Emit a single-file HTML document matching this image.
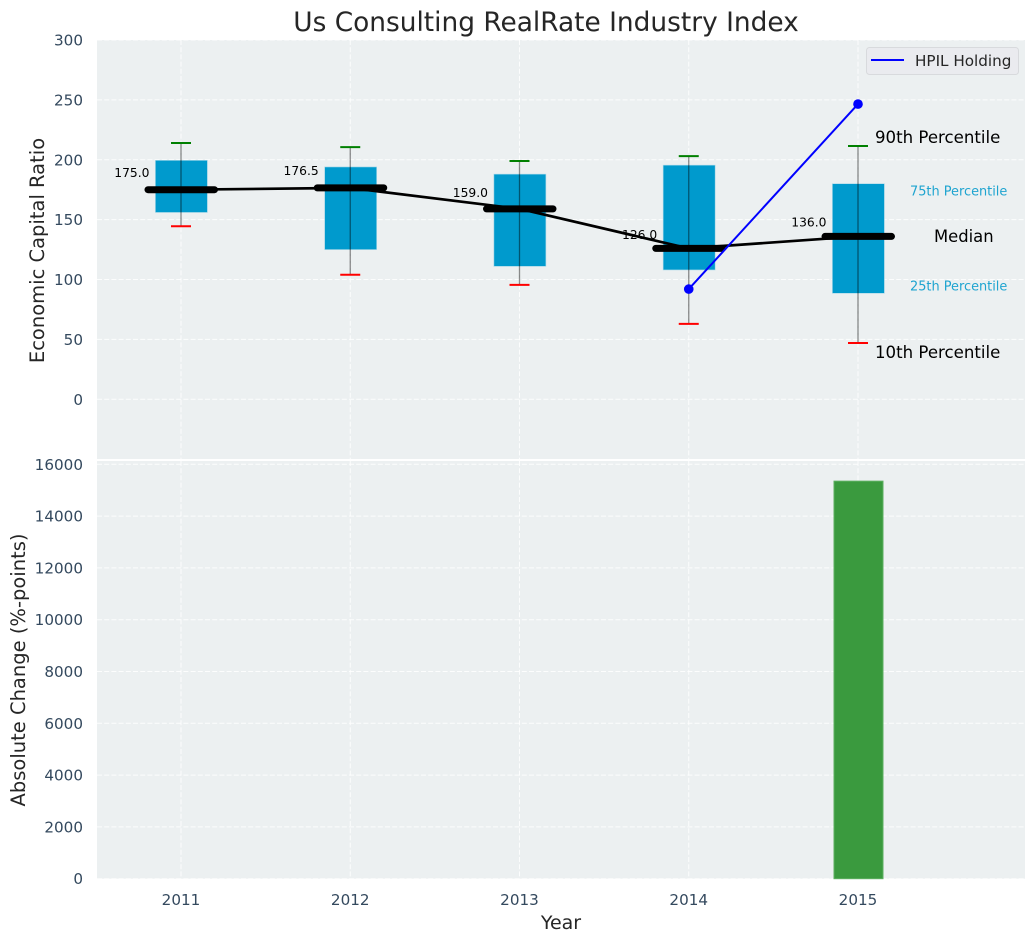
<!DOCTYPE html>
<html>
<head>
<meta charset="utf-8">
<title>Us Consulting RealRate Industry Index</title>
<style>
html,body{margin:0;padding:0;background:#fff;width:1036px;height:942px;overflow:hidden}
svg{display:block;font-family:"DejaVu Sans","Liberation Sans",sans-serif}
</style>
</head>
<body>
<svg id="chart" width="1036" height="942" viewBox="0 0 1036 942" xmlns="http://www.w3.org/2000/svg">
  <rect x="97" y="40" width="928" height="419" fill="#ecf0f1"/>
  <rect x="97" y="461" width="928" height="417.7" fill="#ecf0f1"/>
  <g id="grid"></g>
  <g id="ticks"></g>
  <g id="marks"></g>
  <text x="546" y="31" text-anchor="middle" font-size="26.4px" fill="#262626">Us Consulting RealRate Industry Index</text>
  <text transform="translate(44,250.5) rotate(-90)" text-anchor="middle" font-size="19.5px" fill="#262626">Economic Capital Ratio</text>
  <text transform="translate(25,670) rotate(-90)" text-anchor="middle" font-size="19.5px" fill="#262626">Absolute Change (%-points)</text>
  <text x="561" y="929" text-anchor="middle" font-size="19px" fill="#262626">Year</text>
  <text x="875" y="143" font-size="16.6px" fill="#000">90th Percentile</text>
  <text x="910" y="195.5" font-size="12.9px" fill="#1ea4d0">75th Percentile</text>
  <text x="934" y="242" font-size="16.4px" fill="#000">Median</text>
  <text x="910" y="290.5" font-size="12.9px" fill="#1ea4d0">25th Percentile</text>
  <text x="875" y="358" font-size="16.6px" fill="#000">10th Percentile</text>
  <g>
    <rect x="866.5" y="47.5" width="152" height="27" rx="3" fill="#eaebef" stroke="#d8dadd" stroke-width="1"/>
    <line x1="871" y1="60" x2="904" y2="60" stroke="#0000ff" stroke-width="2"/>
    <text x="915" y="66" font-size="15.2px" fill="#262626">HPIL Holding</text>
  </g>
</svg>
<script>
var years = [2011, 2012, 2013, 2014, 2015];
var p10 = [144.5, 104, 95.5, 63, 47];
var p25 = [156, 125, 111, 108, 88.5];
var medians = [175, 176.5, 159, 126, 136];
var p75 = [199.5, 194, 188, 195.5, 180];
var p90 = [214, 210.5, 199, 203, 211.5];
var medianLabels = ['175.0', '176.5', '159.0', '126.0', '136.0'];
var holdingYears = [2014, 2015];
var holdingValues = [92, 246.5];
var changeYears = [2015];
var changeValues = [15350];
var topTicks = [0, 50, 100, 150, 200, 250, 300];
var bottomTicks = [0, 2000, 4000, 6000, 8000, 10000, 12000, 14000, 16000];

var NS = 'http://www.w3.org/2000/svg';
var gridG = document.getElementById('grid');
var ticksG = document.getElementById('ticks');
var marksG = document.getElementById('marks');

function xPos(year) { return 181 + (year - 2011) * 169.25; }
function yTop(v) { return 399.3 - v * 1.1977; }
function yBottom(v) { return 878.7 - v * 0.0259; }

function make(tag, parent, attrs) {
  var el = document.createElementNS(NS, tag);
  for (var k in attrs) { el.setAttribute(k, attrs[k]); }
  parent.appendChild(el);
  return el;
}
function gridAttrs(x1, y1, x2, y2) {
  return {x1: x1, y1: y1, x2: x2, y2: y2, stroke: '#ffffff', 'stroke-width': 1, 'stroke-dasharray': '5,2.2', 'stroke-opacity': 0.85};
}

topTicks.forEach(function (t) {
  var y = yTop(t);
  var g = make('line', gridG, gridAttrs(97, y, 1025, y));
  
  
  var lab = make('text', ticksG, {x: 83, y: y + 5.5, 'text-anchor': 'end', 'font-size': '15.2px', fill: '#34495e'});
  lab.textContent = String(t);
  
  
});
bottomTicks.forEach(function (t) {
  var y = yBottom(t);
  var g = make('line', gridG, gridAttrs(97, y, 1025, y));
  
  
  var lab = make('text', ticksG, {x: 83, y: y + 5.5, 'text-anchor': 'end', 'font-size': '15.2px', fill: '#34495e'});
  lab.textContent = String(t);
  
  
});
years.forEach(function (yr) {
  var x = xPos(yr);
  var g1 = make('line', gridG, gridAttrs(x, 40, x, 459));
  
  
  var g2 = make('line', gridG, gridAttrs(x, 461, x, 878.7));
  
  
  var lab = make('text', ticksG, {x: x, y: 905, 'text-anchor': 'middle', 'font-size': '15.2px', fill: '#34495e'});
  lab.textContent = String(yr);
  
  
});

changeYears.forEach(function (yr, i) {
  var x = xPos(yr);
  var top = yBottom(changeValues[i]);
  var bar = make('rect', marksG, {x: x - 24, y: top, width: 49, height: yBottom(0) - top, fill: '#3a9a3e', stroke: '#5cb060', 'stroke-width': 1});
  
  
});

years.forEach(function (yr, i) {
  var x = xPos(yr);
  var box = make('rect', marksG, {x: x - 25.6, y: yTop(p75[i]), width: 52, height: yTop(p25[i]) - yTop(p75[i]), fill: '#009acd', stroke: '#a8d8e8', 'stroke-width': 0.6});
  
  
  var whisker = make('line', marksG, {x1: x, y1: yTop(p90[i]), x2: x, y2: yTop(p10[i]), stroke: '#000000', 'stroke-width': 1.3, 'stroke-opacity': 0.45});
  
  
  var capHigh = make('line', marksG, {x1: x - 10, y1: yTop(p90[i]), x2: x + 10, y2: yTop(p90[i]), stroke: '#008000', 'stroke-width': 2});
  
  
  var capLow = make('line', marksG, {x1: x - 10, y1: yTop(p10[i]), x2: x + 10, y2: yTop(p10[i]), stroke: '#ff0000', 'stroke-width': 2});
  
  
});

var medianPath = make('polyline', marksG, {
  points: years.map(function (yr, i) { return xPos(yr) + ',' + yTop(medians[i]); }).join(' '),
  fill: 'none', stroke: '#000000', 'stroke-width': 2.7
});



years.forEach(function (yr, i) {
  var x = xPos(yr);
  var y = yTop(medians[i]);
  var med = make('line', marksG, {x1: x - 33, y1: y, x2: x + 33.5, y2: y, stroke: '#000000', 'stroke-width': 7, 'stroke-linecap': 'round'});
  
  
  var lab = make('text', marksG, {x: x - 31.5, y: yTop(medians[i] * 1.059 + 4.1) + 4.5, 'text-anchor': 'end', 'font-size': '12.3px', fill: '#000000'});
  lab.textContent = medianLabels[i];
  
  
});

var holdingLine = make('polyline', marksG, {
  points: holdingYears.map(function (yr, i) { return xPos(yr) + ',' + yTop(holdingValues[i]); }).join(' '),
  fill: 'none', stroke: '#0000ff', 'stroke-width': 2
});


holdingYears.forEach(function (yr, i) {
  var dot = make('circle', marksG, {cx: xPos(yr), cy: yTop(holdingValues[i]), r: 4.8, fill: '#0000ff'});
  
  
});
</script>
</body>
</html>
